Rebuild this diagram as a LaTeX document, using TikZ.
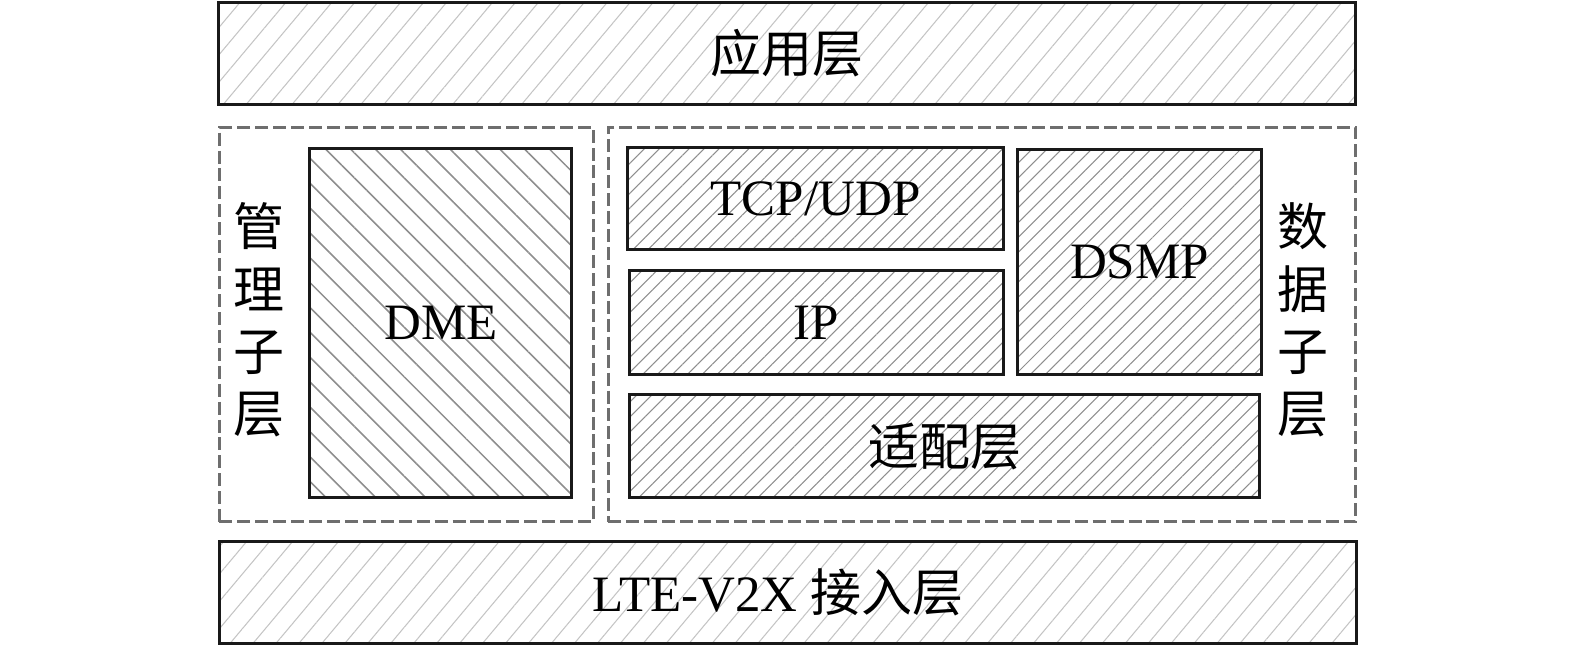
\documentclass[tikz,border=0pt]{standalone}
\usepackage{fontspec}
\setmainfont{Liberation Serif}
\newfontfamily\cjk{Noto Sans CJK SC}
\usetikzlibrary{patterns.meta}
\definecolor{hatchlight}{HTML}{C4C4C4}
\definecolor{hatchmid}{HTML}{8E8E8E}
\definecolor{dashgray}{HTML}{6E6E6E}
\tikzset{
  solidbox/.style={draw=black!90, line width=0.85pt, inner sep=0pt, anchor=north west},
  lighthatch/.style={pattern={Lines[angle=50, distance=5pt, line width=0.3pt]}, pattern color=hatchlight},
  midhatch/.style={pattern={Lines[angle=45, distance=3pt, line width=0.3pt]}, pattern color=hatchmid},
  dmehatch/.style={pattern={Lines[angle=-45, distance=5pt, line width=0.45pt]}, pattern color=hatchmid},
  dashbox/.style={draw=dashgray, line width=0.8pt, dash pattern=on 3.7pt off 1.4pt, inner sep=0pt, anchor=north west},
  lbl/.style={font=\fontsize{14.5}{17}\selectfont},
  clbl/.style={font=\cjk\fontsize{14.5}{17}\selectfont},
  vlbl/.style={font=\cjk\fontsize{14.5}{17.7}\selectfont, align=center, inner sep=0pt},
}
\begin{document}
\begin{tikzpicture}[x=0.01cm, y=-0.01cm]
\useasboundingbox (0,0) rectangle (1575,644);
% top
\node[solidbox, lighthatch, minimum width=11.36cm, minimum height=1.02cm] (app) at (218,2) {};
\node[clbl] (appt) at (app.center) {应用层};
% dashed groups
\node[dashbox, minimum width=3.74cm, minimum height=3.94cm] (mgmt) at (218,126) {};
\node[dashbox, minimum width=7.47cm, minimum height=3.94cm] (data) at (607,126) {};
% DME
\node[solidbox, dmehatch, minimum width=2.62cm, minimum height=3.48cm] (dme) at (309,148) {};
\node[lbl] (dmet) at (dme.center) {DME};
% TCP/UDP
\node[solidbox, midhatch, minimum width=3.76cm, minimum height=1.02cm] (tcp) at (627,147) {};
\node[lbl] (tcpt) at (tcp.center) {TCP/UDP};
% IP
\node[solidbox, midhatch, minimum width=3.74cm, minimum height=1.04cm] (ip) at (628,269) {};
\node[lbl] (ipt) at (ip.center) {IP};
% DSMP
\node[solidbox, midhatch, minimum width=2.44cm, minimum height=2.25cm] (dsmp) at (1016,148) {};
\node[lbl] (dsmpt) at (dsmp.center) {DSMP};
% adaptation
\node[solidbox, midhatch, minimum width=6.30cm, minimum height=1.03cm] (adapt) at (628,393) {};
\node[clbl] (adaptt) at (adapt.center) {适配层};
% bottom
\node[solidbox, lighthatch, minimum width=11.36cm, minimum height=1.02cm] (lte) at (218,540) {};
\node[lbl] (ltet) at ([xshift=-0.1cm]lte.center) {LTE-V2X {\cjk 接入层}};
% vertical labels
\node[vlbl] (mgmtt) at (259,320) {管\\理\\子\\层};
\node[vlbl] (datat) at (1303,320) {数\\据\\子\\层};
\end{tikzpicture}
\end{document}
